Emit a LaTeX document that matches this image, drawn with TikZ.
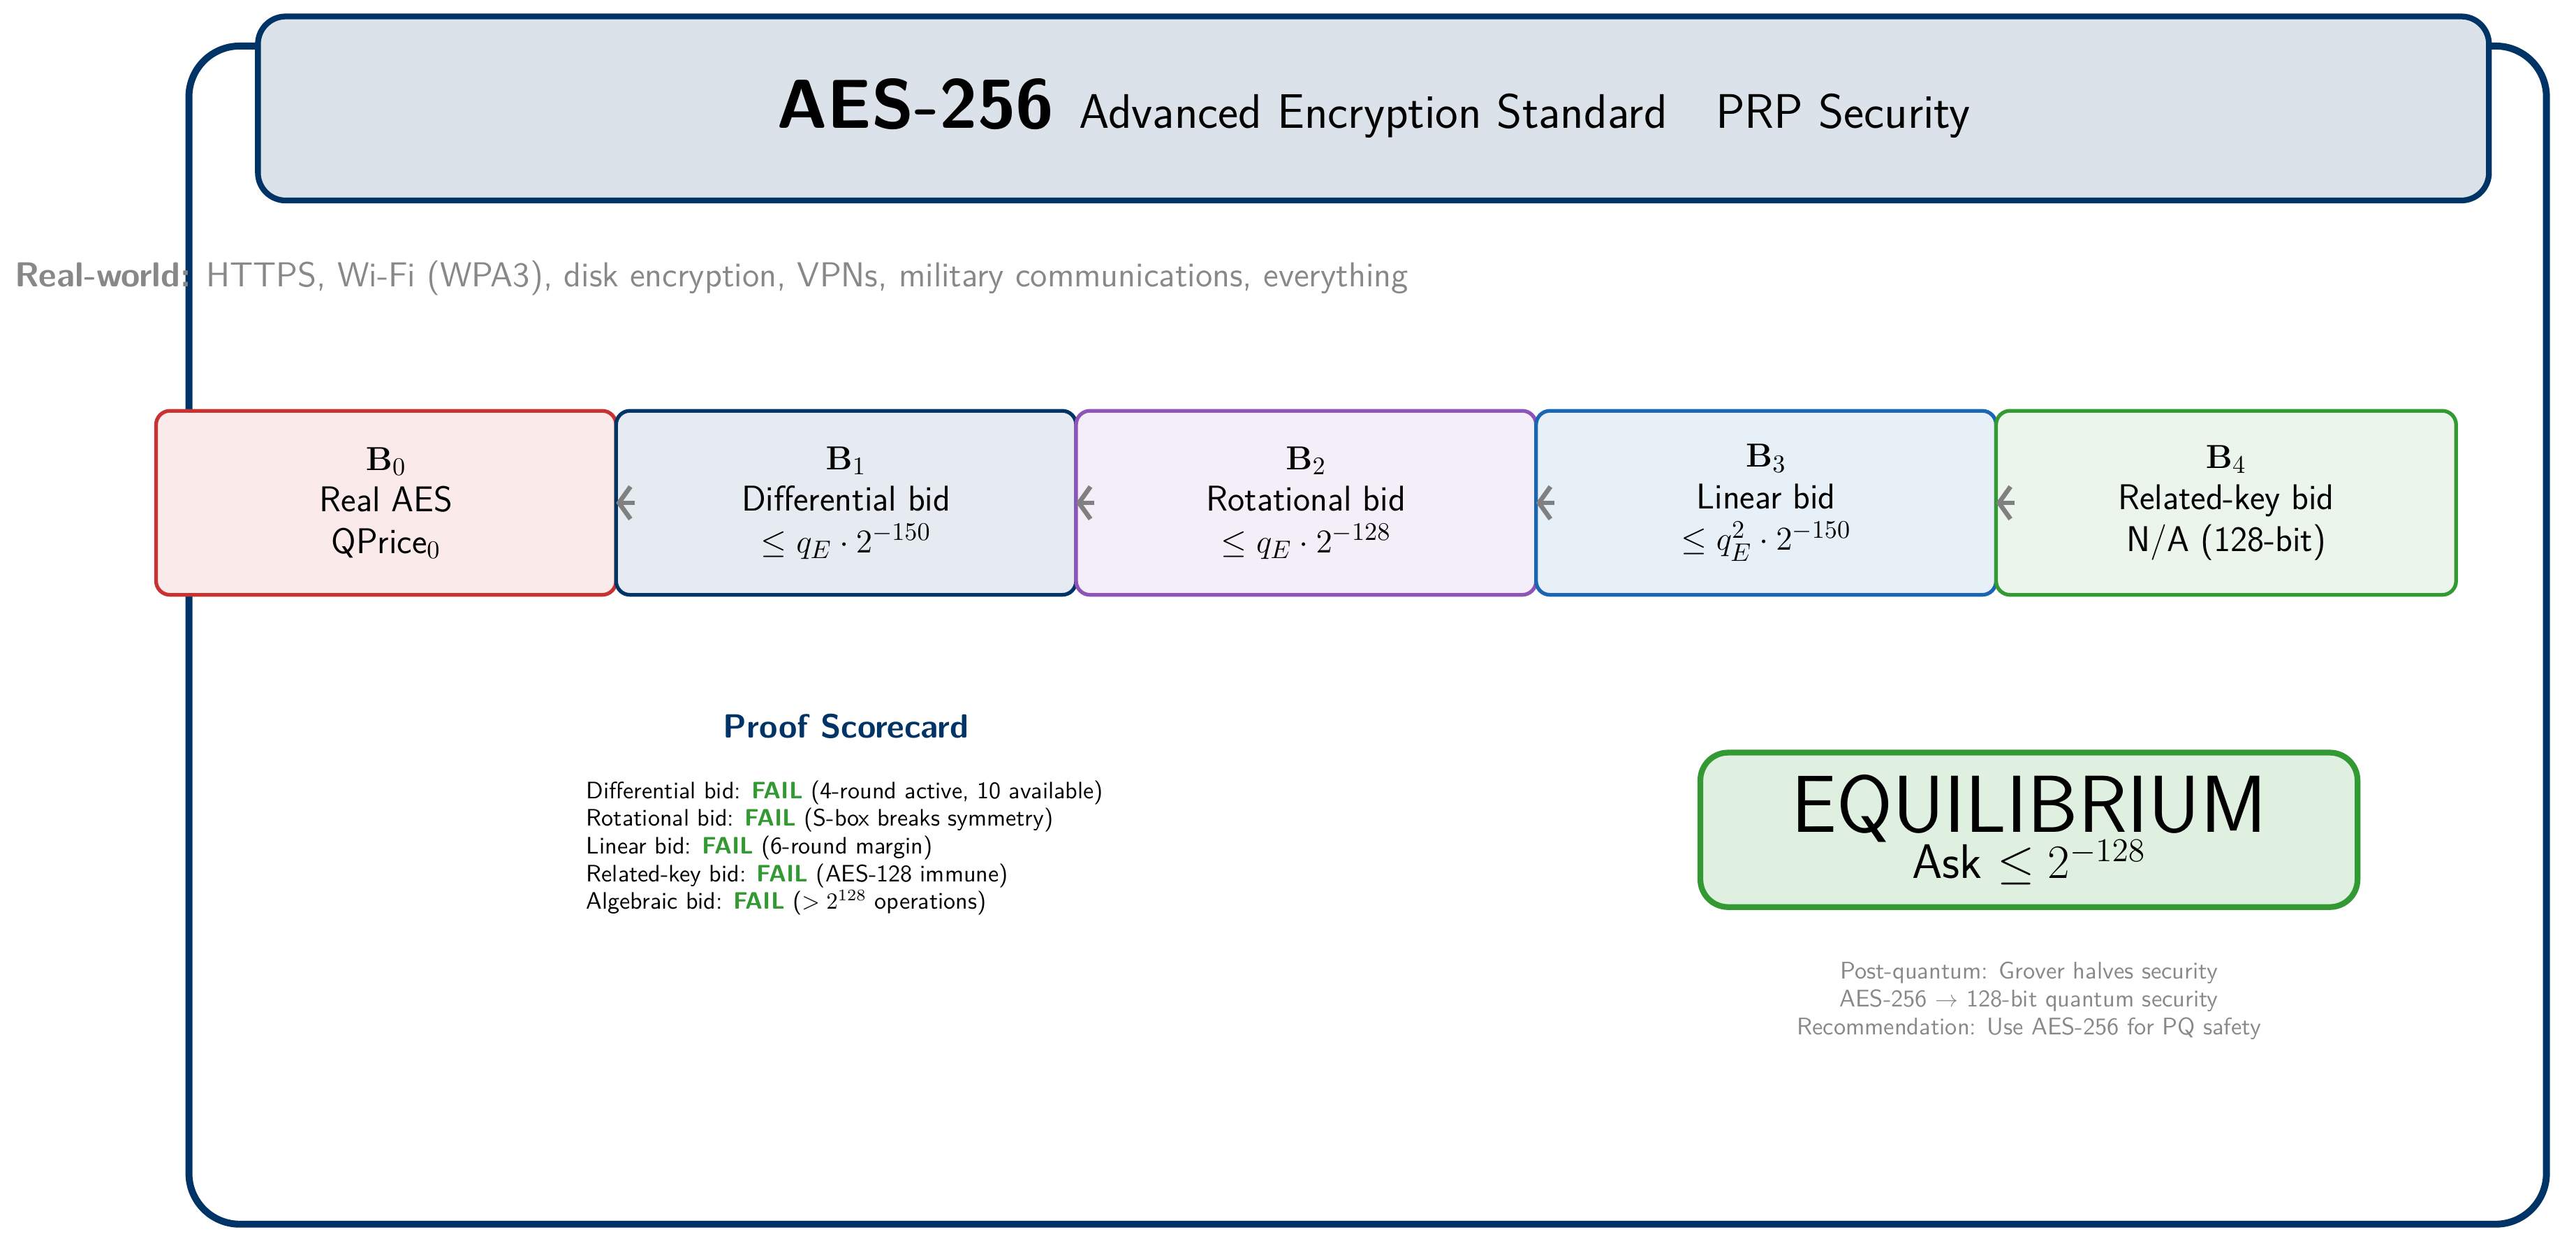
\documentclass[tikz,border=0pt]{standalone}
\usepackage{amsmath,amssymb}
\usepackage{tikz}
\usetikzlibrary{arrows.meta,chains,positioning}
\definecolor{navy}{HTML}{003366}
\definecolor{redE}{HTML}{C83232}
\definecolor{purpE}{HTML}{8E55B8}
\definecolor{blueE}{HTML}{1A66B3}
\definecolor{greenE}{HTML}{339933}
\definecolor{txtgray}{HTML}{888888}
\begin{document}
\begin{tikzpicture}[
node distance=0pt,
 start chain = B going right,
    bid/.style = {rectangle, rounded corners=6pt, line width=1.6pt,% boxes of the bid chain
                minimum width=7cm, minimum height=2.8cm, align=center,
                outer sep=0pt, on chain, font=\sffamily\fontsize{15.5}{18}\selectfont},
    back/.style = {gray, line width=2pt, -{Straight Barb[length=5pt,width=14pt]}},
    note/.style = {txtgray, font=\sffamily\fontsize{10.4}{12}\selectfont, align=center},
                        ]
\useasboundingbox (0,0) rectangle (39.2,-18.95);
% frame and title
\draw[navy, line width=3pt, rounded corners=22pt] (2.875,-0.7) rectangle (38.75,-18.625);
\node[draw=navy, fill=navy!14, line width=2.5pt, rounded corners=12pt,
      minimum width=33.95cm, minimum height=2.8cm] (title) at (20.9,-1.65) {};
\node[font=\sffamily] (head) at (title.center)
  {{\fontsize{30}{32}\selectfont\bfseries AES-256}\hspace{1.1em}{\fontsize{21}{24}\selectfont Advanced Encryption Standard\hspace{1em}PRP Security}};
\node[anchor=west, txtgray, font=\sffamily\fontsize{15}{17}\selectfont] (world) at (0.1,-4.225)
  {\textbf{Real-world:} HTTPS, Wi-Fi (WPA3), disk encryption, VPNs, military communications, everything};
% the chain
\node[bid, draw=redE, fill=redE!10] at (5.875,-7.65) {$\mathbf{B}_0$\\Real AES\\QPrice$_0$};
\node[bid, draw=navy, fill=navy!10] {$\mathbf{B}_1$\\Differential bid\\$\le q_E\cdot 2^{-150}$};
\node[bid, draw=purpE, fill=purpE!10] {$\mathbf{B}_2$\\Rotational bid\\$\le q_E\cdot 2^{-128}$};
\node[bid, draw=blueE, fill=blueE!10] {$\mathbf{B}_3$\\Linear bid\\$\le q_E^2\cdot 2^{-150}$};
\node[bid, draw=greenE, fill=greenE!10] {$\mathbf{B}_4$\\Related-key bid\\N/A (128-bit)};
\foreach \i [count=\j from 2] in {1,...,4}
    \draw[back] ([xshift=8pt]B-\j.west) -- (B-\j.west);
% scorecard
\node[navy, font=\sffamily\bfseries\fontsize{14.5}{16}\selectfont] (card) at (12.875,-11.05) {Proof Scorecard};
\node[anchor=north west, align=left, font=\sffamily\fontsize{10.3}{12}\selectfont] (lines) at (8.8,-11.75)
  {Differential bid: \textcolor{greenE}{\textbf{FAIL}} (4-round active, 10 available)\\
   Rotational bid: \textcolor{greenE}{\textbf{FAIL}} (S-box breaks symmetry)\\
   Linear bid: \textcolor{greenE}{\textbf{FAIL}} (6-round margin)\\
   Related-key bid: \textcolor{greenE}{\textbf{FAIL}} (AES-128 immune)\\
   Algebraic bid: \textcolor{greenE}{\textbf{FAIL}} ($>2^{128}$ operations)};
% equilibrium
\node[draw=greenE, fill=greenE!15, line width=2.5pt, rounded corners=12pt,
      minimum width=10cm, minimum height=2.35cm, align=center, font=\sffamily] (eq) at (30.875,-12.625)
  {{\fontsize{35}{36}\selectfont EQUILIBRIUM}\\[-2pt]{\fontsize{21}{23}\selectfont Ask $\le 2^{-128}$}};
\node[note] (pq) at (30.875,-15.225) {Post-quantum: Grover halves security\\AES-256 $\rightarrow$ 128-bit quantum security\\Recommendation: Use AES-256 for PQ safety};
\end{tikzpicture}
\end{document}
